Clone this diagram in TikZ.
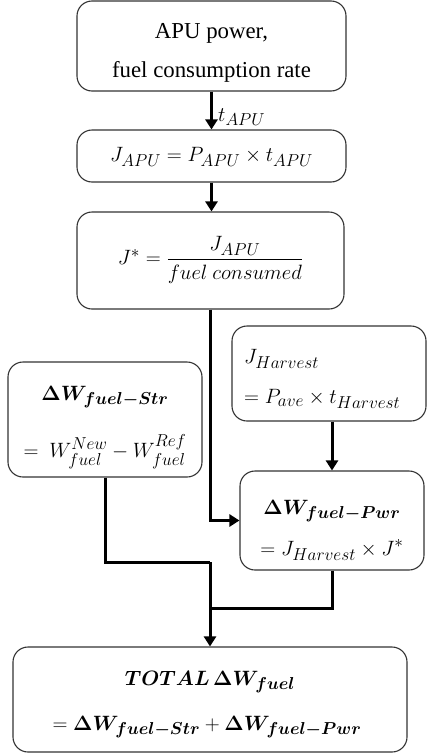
\documentclass[tikz,border=0pt]{standalone}
\usepackage{amsmath}
\usepackage{bm}
\usepackage{fontspec}
\setmainfont{Liberation Serif}
\DeclareMathSizes{20}{20}{16}{13}
\usetikzlibrary{arrows.meta}
\begin{document}
\begin{tikzpicture}[x=1pt,y=-1pt,
  box/.style={draw=black!80,line width=1.1pt,rounded corners=15pt,inner sep=0pt},
  txt/.style={inner sep=0pt,font=\fontsize{20}{24}\selectfont},
  rtxt/.style={inner sep=0pt,font=\fontsize{22.8}{26}\selectfont},
  arr/.style={line width=3pt,-{Triangle[width=12pt,length=10pt]}},
  ln/.style={line width=3pt}]
\useasboundingbox (0,0) rectangle (427,755);
% boxes
\node[box,minimum width=269pt,minimum height=90pt] (b1) at (211.5,46) {};
\node[box,minimum width=269pt,minimum height=52pt] (b2) at (211.5,156) {};
\node[box,minimum width=267pt,minimum height=97pt] (b3) at (210.5,260.5) {};
\node[box,minimum width=194pt,minimum height=95pt] (harv) at (329,373.5) {};
\node[box,minimum width=194pt,minimum height=115pt] (str) at (105,419.5) {};
\node[box,minimum width=184pt,minimum height=99pt] (pwr) at (332,520.5) {};
\node[box,minimum width=394pt,minimum height=105pt] (tot) at (210,699.5) {};
% texts
\node[rtxt] (t1a) at (211.5,33) {APU power,};
\node[rtxt] (t1b) at (211.5,72) {fuel consumption rate};
\node[txt] (t2) at (211.5,157) {$J_{APU} = P_{APU} \times t_{APU}$};
\node[txt] (t3) at (210.5,260) {$J^{*} = \dfrac{J_{APU}}{fuel\ consumed}$};
\node[txt,anchor=west] (th1) at (244,359) {$J_{Harvest}$};
\node[txt,anchor=west] (th2) at (244,399) {$= P_{ave} \times t_{Harvest}$};
\node[txt] (ts1) at (105,397) {$\bm{\Delta W_{fuel-Str}}$};
\node[txt] (ts2) at (105,452) {$=\ W_{fuel}^{New} - W_{fuel}^{Ref}$};
\node[txt] (tp1) at (332,511) {$\bm{\Delta W_{fuel-Pwr}}$};
\node[txt] (tp2) at (332,550) {$= J_{Harvest} \times J^{*}$};
\node[txt] (tt1) at (210,682) {$\bm{TOTAL\,\Delta W_{fuel}}$};
\node[txt] (tt2) at (207,727) {$= \bm{\Delta W_{fuel-Str}} + \bm{\Delta W_{fuel-Pwr}}$};
\node[txt,anchor=west] (lab) at (218,117) {$t_{APU}$};
% connectors
\draw[arr] (b1.south) -- (b2.north);
\draw[arr] (b2.south) -- (b2.south |- b3.north);
\draw[arr] (b3.south) |- (pwr.west);
\draw[arr] (harv.south -| pwr.north) -- (pwr.north);
\coordinate (j1) at (210,562);
\coordinate (j2) at (210,608);
\draw[ln] (str.south) |- (j1);
\draw[ln] (pwr.south) |- (j2);
\draw[arr] (j1) -- (tot.north);
\end{tikzpicture}
\end{document}
